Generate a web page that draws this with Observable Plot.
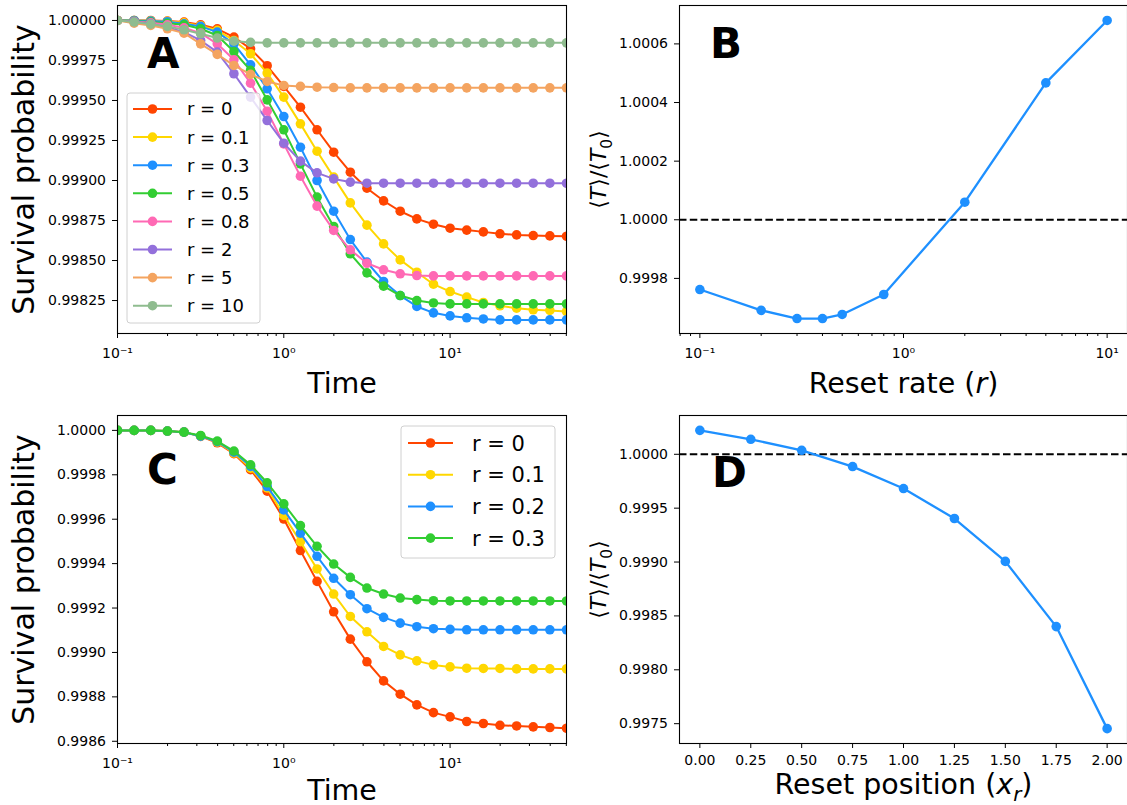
<!DOCTYPE html>
<html><head><meta charset="utf-8">
<script src="https://cdn.jsdelivr.net/npm/d3@7"></script>
<script src="https://cdn.jsdelivr.net/npm/@observablehq/plot@0.6"></script>
<style>
body{margin:0;background:#fff;}
#fig{position:relative;width:1127px;height:805px;overflow:hidden;font-family:"DejaVu Sans";background:#fff;}
.panel{position:absolute;}
#overlay{position:absolute;left:0;top:0;pointer-events:none;}
</style></head><body><div id="fig"></div>
<script>
// ---------- data ----------
const times = [0.1, 0.1259, 0.1585, 0.1995, 0.2512, 0.3162, 0.3981, 0.5012, 0.631, 0.7943,
  1, 1.259, 1.585, 1.995, 2.512, 3.162, 3.981, 5.012, 6.31, 7.943,
  10, 12.59, 15.85, 19.95, 25.12, 31.62, 39.81, 50.12];

const labelsA = ["r = 0", "r = 0.1", "r = 0.3", "r = 0.5", "r = 0.8", "r = 2", "r = 5", "r = 10"];
const colorsA = ["#ff4500", "#ffd700", "#1e90ff", "#32cd32", "#ff69b4", "#9370db", "#f4a460", "#8fbc8f"];
const survA_r0 = [1, 1, 1, 0.999996, 0.99999, 0.999973, 0.999948, 0.999896, 0.999823, 0.999717, 0.999588, 0.999458, 0.999317, 0.999177, 0.999052, 0.998952, 0.998873, 0.998808, 0.99876, 0.998727, 0.998702, 0.99869, 0.998679, 0.998667, 0.99866, 0.998656, 0.998654, 0.998652];
const survA_r01 = [1, 1, 0.999998, 0.999994, 0.999985, 0.999967, 0.999938, 0.999875, 0.999792, 0.999671, 0.999521, 0.999354, 0.999183, 0.999021, 0.99886, 0.998721, 0.998604, 0.998504, 0.998427, 0.998352, 0.998306, 0.998271, 0.998238, 0.998217, 0.998202, 0.998192, 0.998188, 0.998181];
const survA_r03 = [1, 1, 0.999996, 0.999992, 0.999979, 0.999963, 0.999927, 0.999854, 0.999723, 0.999573, 0.9994, 0.999208, 0.999, 0.998808, 0.998631, 0.99849, 0.998369, 0.998281, 0.998213, 0.998173, 0.998154, 0.998142, 0.998135, 0.998129, 0.998129, 0.998129, 0.998129, 0.998129];
const survA_r05 = [1, 0.999996, 0.99999, 0.999983, 0.999973, 0.999948, 0.999906, 0.999806, 0.999688, 0.999504, 0.999317, 0.999104, 0.998896, 0.998713, 0.998542, 0.998423, 0.99834, 0.998281, 0.99825, 0.998235, 0.998229, 0.998229, 0.998229, 0.998229, 0.998229, 0.998229, 0.998229, 0.998229];
const survA_r08 = [1, 0.999994, 0.999985, 0.999973, 0.999954, 0.999921, 0.999854, 0.999754, 0.999608, 0.999433, 0.999229, 0.999027, 0.99884, 0.998688, 0.998567, 0.998483, 0.998442, 0.998417, 0.998406, 0.998404, 0.998404, 0.998404, 0.998404, 0.998404, 0.998404, 0.998404, 0.998404, 0.998404];
const survA_r2 = [1, 0.999992, 0.999979, 0.999958, 0.999927, 0.999875, 0.999802, 0.999667, 0.999521, 0.999375, 0.999233, 0.999121, 0.999048, 0.99901, 0.99899, 0.998983, 0.998983, 0.998983, 0.998983, 0.998983, 0.998983, 0.998983, 0.998983, 0.998983, 0.998983, 0.998983, 0.998983, 0.998983];
const survA_r5 = [1, 0.999983, 0.999969, 0.999948, 0.999921, 0.999854, 0.999788, 0.999719, 0.999663, 0.999619, 0.999594, 0.999588, 0.999583, 0.999581, 0.999579, 0.999579, 0.999579, 0.999579, 0.999579, 0.999579, 0.999579, 0.999579, 0.999579, 0.999579, 0.999579, 0.999579, 0.999579, 0.999579];
const survA_r10 = [1, 0.99999, 0.999977, 0.999963, 0.999942, 0.999917, 0.99989, 0.999871, 0.999863, 0.99986, 0.99986, 0.99986, 0.99986, 0.99986, 0.99986, 0.99986, 0.99986, 0.99986, 0.99986, 0.99986, 0.99986, 0.99986, 0.99986, 0.99986, 0.99986, 0.99986, 0.99986, 0.99986];

const labelsC = ["r = 0", "r = 0.1", "r = 0.2", "r = 0.3"];
const colorsC = ["#ff4500", "#ffd700", "#1e90ff", "#32cd32"];
const survC_r0 = [1, 1, 1, 0.999997, 0.999992, 0.999973, 0.999944, 0.999895, 0.999823, 0.999726, 0.999601, 0.999459, 0.99932, 0.999183, 0.99906, 0.998958, 0.998872, 0.998812, 0.998764, 0.998729, 0.99871, 0.998689, 0.99868, 0.998672, 0.998669, 0.998665, 0.998662, 0.998659];
const survC_r01 = [1, 1, 1, 0.999997, 0.999992, 0.999974, 0.999947, 0.999898, 0.99983, 0.999741, 0.999617, 0.999499, 0.999376, 0.999263, 0.999162, 0.999093, 0.999027, 0.998989, 0.998962, 0.998944, 0.998935, 0.998929, 0.998928, 0.998928, 0.998926, 0.998926, 0.998926, 0.998926];
const survC_r02 = [1, 1, 1, 0.999997, 0.999992, 0.999974, 0.999949, 0.999902, 0.999838, 0.999747, 0.999642, 0.999537, 0.999433, 0.999334, 0.99926, 0.999197, 0.999158, 0.999132, 0.999116, 0.999107, 0.999104, 0.999102, 0.999102, 0.999102, 0.999102, 0.999102, 0.999102, 0.999102];
const survC_r03 = [1, 1, 1, 0.999997, 0.999992, 0.999977, 0.999952, 0.999907, 0.999845, 0.999764, 0.999669, 0.999571, 0.999478, 0.999398, 0.999338, 0.99929, 0.999263, 0.999245, 0.999238, 0.999233, 0.999232, 0.999232, 0.999232, 0.999232, 0.999232, 0.999232, 0.999232, 0.999232];

const rateB = [0.1, 0.2, 0.3, 0.4, 0.5, 0.8, 2, 5, 10];
const ratioB = [0.999762, 0.999691, 0.999663, 0.999663, 0.999677, 0.999745, 1.00006, 1.000467, 1.00068];
const posD = [0, 0.25, 0.5, 0.75, 1, 1.25, 1.5, 1.75, 2];
const ratioD = [1.000222, 1.000139, 1.000037, 0.999886, 0.999682, 0.999404, 0.999006, 0.998401, 0.997454];

const logMajor = [0.1, 1, 10];
const logMajorLabels = ["10\u207B\u00B9", "10\u2070", "10\u00B9"];
const ticksA_y = [0.99825, 0.9985, 0.99875, 0.999, 0.99925, 0.9995, 0.99975, 1];
const ticksC_y = [0.9986, 0.9988, 0.999, 0.9992, 0.9994, 0.9996, 0.9998, 1];
const ticksB_y = [0.9998, 1, 1.0002, 1.0004, 1.0006];
const ticksD_y = [0.9975, 0.998, 0.9985, 0.999, 0.9995, 1];
const ticksD_x = [0, 0.25, 0.5, 0.75, 1, 1.25, 1.5, 1.75, 2];

const seriesA = [survA_r0, survA_r01, survA_r03, survA_r05, survA_r08, survA_r2, survA_r5, survA_r10];
const seriesC = [survC_r0, survC_r01, survC_r02, survC_r03];

// ---------- helpers ----------
const baseStyle = {fontFamily: "DejaVu Sans", fontSize: "14px", color: "black", background: "transparent", overflow: "visible"};

function isMajor(v) { const l = Math.log10(v); return Math.abs(l - Math.round(l)) < 1e-6; }
function minorTicks(domain) { return d3.scaleLog().domain(domain).ticks().filter(v => !isMajor(v)); }
function fmtLog(d) { const i = logMajor.findIndex(m => Math.abs(m - d) < 1e-9); return i < 0 ? "" : logMajorLabels[i]; }

function seriesMarks(vals, color) {
  const data = times.map((t, i) => ({t, v: vals[i]}));
  return [
    Plot.line(data, {x: "t", y: "v", stroke: color, strokeWidth: 2, clip: true}),
    Plot.dot(data, {x: "t", y: "v", fill: color, r: 4.8, clip: true})
  ];
}

function logXAxes(domain, label, labelOffset, padding) {
  return [
    Plot.axisX({ticks: minorTicks(domain), tickSize: 3, tickFormat: () => "", label: null, strokeWidth: 1}),
    Plot.axisX({ticks: logMajor.filter(v => v >= domain[0] - 1e-9 && v <= domain[1]), tickSize: 5, tickPadding: padding, tickFormat: fmtLog, label: null, fontSize: 14, strokeWidth: 1}),
    Plot.axisX({ticks: [], label, labelAnchor: "center", labelArrow: "none", labelOffset, fontSize: 28.5})
  ];
}
function yAxes(ticks, decimals, label, labelOffset, labelSize) {
  return [
    Plot.axisY({ticks, tickSize: 5, tickPadding: 6.5, tickFormat: d => d.toFixed(decimals), label: null, fontSize: 14, strokeWidth: 1}),
    Plot.axisY({ticks: [], label, labelAnchor: "center", labelArrow: "none", labelOffset, fontSize: labelSize})
  ];
}

function richLabel(svg, which, parts) {
  const t = svg.querySelector(`g[aria-label="${which}-axis label"] text`);
  if (!t) return;
  t.textContent = "";
  const ns = "http://www.w3.org/2000/svg";
  let shift = 0;
  for (const p of parts) {
    const s = document.createElementNS(ns, "tspan");
    s.textContent = p.t;
    if (p.italic) s.setAttribute("font-style", "italic");
    const want = p.sub ? 0.28 : 0;
    if (want !== shift) { s.setAttribute("dy", `${(want - shift) * (p.sub ? 1 / 0.7 : 1)}em`); shift = want; }
    if (p.sub) s.setAttribute("font-size", "0.7em");
    t.appendChild(s);
  }
}

function place(svg, left, top) {
  const d = document.createElement("div");
  d.className = "panel"; d.style.left = left + "px"; d.style.top = top + "px";
  d.appendChild(svg);
  document.getElementById("fig").appendChild(d);
}

// ---------- Panel A ----------
const domA = [0.1, 50.12];
const plotA = Plot.plot({
  width: 570, height: 405, marginLeft: 117, marginRight: 4, marginTop: 5, marginBottom: 72,
  style: baseStyle,
  x: {type: "log", domain: domA},
  y: {domain: [0.998044, 1.0000935]},
  marks: [
    ...seriesA.flatMap((s, i) => seriesMarks(s, colorsA[i])),
    ...logXAxes(domA, "Time", 59, 10),
    ...yAxes(ticksA_y, 5, "Survival probability", 104.5, 30),
    Plot.frame({stroke: "black", strokeWidth: 1.1})
  ]
});
place(plotA, 0, 0);

// ---------- Panel C ----------
const plotC = Plot.plot({
  width: 570, height: 400, marginLeft: 117, marginRight: 4, marginTop: 10, marginBottom: 62,
  style: baseStyle,
  x: {type: "log", domain: domA},
  y: {domain: [0.99859, 1.000067]},
  marks: [
    ...seriesC.flatMap((s, i) => seriesMarks(s, colorsC[i])),
    ...logXAxes(domA, "Time", 56, 10),
    ...yAxes(ticksC_y, 4, "Survival probability", 104.5, 30),
    Plot.frame({stroke: "black", strokeWidth: 1.1})
  ]
});
place(plotC, 0, 405);

// ---------- Panel B ----------
const domB = [Math.pow(10, -1.1), Math.pow(10, 1.1)];
const dataB = rateB.map((r, i) => ({r, v: ratioB[i]}));
const plotB = Plot.plot({
  width: 557, height: 405, marginLeft: 109, marginRight: 0, marginTop: 5, marginBottom: 72,
  style: baseStyle,
  x: {type: "log", domain: domB},
  y: {domain: [0.999612, 1.000731]},
  marks: [
    Plot.ruleY([1], {stroke: "black", strokeWidth: 2, strokeDasharray: "7.5,3.3"}),
    Plot.line(dataB, {x: "r", y: "v", stroke: "#1e90ff", strokeWidth: 2.3}),
    Plot.dot(dataB, {x: "r", y: "v", fill: "#1e90ff", r: 4.8}),
    ...logXAxes(domB, "Reset rate (r)", 59, 10),
    ...yAxes(ticksB_y, 4, "\u27E8T\u27E9/\u27E8T0\u27E9", 89, 22),
    Plot.frame({stroke: "black", strokeWidth: 1.1})
  ]
});
richLabel(plotB, "x", [{t: "Reset rate ("}, {t: "r", italic: true}, {t: ")"}]);
richLabel(plotB, "y", [{t: "\u27E8"}, {t: "T", italic: true}, {t: "\u27E9/\u27E8"}, {t: "T", italic: true}, {t: "0", sub: true}, {t: "\u27E9"}]);
place(plotB, 570, 0);

// ---------- Panel D ----------
const dataD = posD.map((p, i) => ({p, v: ratioD[i]}));
const plotD = Plot.plot({
  width: 557, height: 400, marginLeft: 109, marginRight: 0, marginTop: 10, marginBottom: 62,
  style: baseStyle,
  x: {domain: [-0.1, 2.1]},
  y: {domain: [0.997316, 1.00036]},
  marks: [
    Plot.ruleY([1], {stroke: "black", strokeWidth: 2, strokeDasharray: "7.5,3.3"}),
    Plot.line(dataD, {x: "p", y: "v", stroke: "#1e90ff", strokeWidth: 2.3}),
    Plot.dot(dataD, {x: "p", y: "v", fill: "#1e90ff", r: 4.8}),
    Plot.axisX({ticks: ticksD_x, tickSize: 5, tickPadding: 7, tickFormat: d => d.toFixed(2), label: null, fontSize: 14, strokeWidth: 1}),
    Plot.axisX({ticks: [], label: "Reset position (xr)", labelAnchor: "center", labelArrow: "none", labelOffset: 50, fontSize: 28.5}),
    ...yAxes(ticksD_y, 4, "\u27E8T\u27E9/\u27E8T0\u27E9", 89, 22),
    Plot.frame({stroke: "black", strokeWidth: 1.1})
  ]
});
richLabel(plotD, "x", [{t: "Reset position ("}, {t: "x", italic: true}, {t: "r", italic: true, sub: true}, {t: ")"}]);
richLabel(plotD, "y", [{t: "\u27E8"}, {t: "T", italic: true}, {t: "\u27E9/\u27E8"}, {t: "T", italic: true}, {t: "0", sub: true}, {t: "\u27E9"}]);
place(plotD, 570, 405);

// ---------- overlay: panel letters and legends ----------
const ov = d3.select("#fig").append("svg").attr("id", "overlay").attr("width", 1127).attr("height", 805)
  .style("font-family", "DejaVu Sans");

const letters = [["A", 147, 68], ["B", 710, 58], ["C", 147, 484], ["D", 712, 487]];
ov.selectAll("text.letter").data(letters).join("text").attr("class", "letter")
  .attr("x", d => d[1]).attr("y", d => d[2]).attr("font-size", 42).attr("font-weight", "bold").text(d => d[0]);

function legend(box, labels, colors, opt) {
  const g = ov.append("g");
  g.append("rect").attr("x", box[0]).attr("y", box[1]).attr("width", box[2]).attr("height", box[3])
    .attr("rx", 3).attr("fill", "white").attr("fill-opacity", 0.8).attr("stroke", "#d0d0d0").attr("stroke-width", 1);
  labels.forEach((lab, i) => {
    const cy = opt.y0 + i * opt.dy;
    g.append("line").attr("x1", opt.x1).attr("x2", opt.x2).attr("y1", cy).attr("y2", cy)
      .attr("stroke", colors[i]).attr("stroke-width", 2);
    g.append("circle").attr("cx", (opt.x1 + opt.x2) / 2).attr("cy", cy).attr("r", 4.8).attr("fill", colors[i]);
    g.append("text").attr("x", opt.tx).attr("y", cy + opt.fs * 0.36).attr("font-size", opt.fs).text(lab);
  });
}
legend([127, 93, 133, 230], labelsA, colorsA, {x1: 133, x2: 172, y0: 109, dy: 28.1, tx: 187, fs: 18});
legend([401, 426, 154, 132], labelsC, colorsC, {x1: 408, x2: 453, y0: 443, dy: 31.7, tx: 472, fs: 21});
</script></body></html>
